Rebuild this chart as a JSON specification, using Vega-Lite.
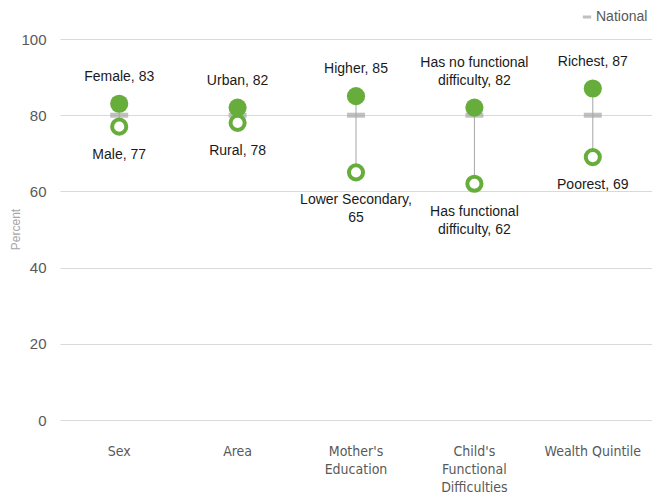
{
  "$schema": "https://vega.github.io/schema/vega-lite/v6.json",
  "width": 592,
  "height": 381,
  "autosize": "none",
  "padding": {"left": 60, "top": 39, "right": 0, "bottom": 73},
  "background": "white",
  "config": {
    "view": {"stroke": null},
    "font": "Liberation Sans",
    "axis": {"labelFont": "Liberation Sans", "titleFont": "Liberation Sans"}
  },
  "data": {
    "values": [
      {"group": "Sex", "high": 83, "low": 77, "national": 80, "high1": "", "high2": "Female, 83", "low1": "Male, 77", "low2": ""},
      {"group": "Area", "high": 82, "low": 78, "national": 80, "high1": "", "high2": "Urban, 82", "low1": "Rural, 78", "low2": ""},
      {"group": "Mother's Education", "high": 85, "low": 65, "national": 80, "high1": "", "high2": "Higher, 85", "low1": "Lower Secondary,", "low2": "65"},
      {"group": "Child's Functional Difficulties", "high": 82, "low": 62, "national": 80, "high1": "Has no functional", "high2": "difficulty, 82", "low1": "Has functional", "low2": "difficulty, 62"},
      {"group": "Wealth Quintile", "high": 87, "low": 69, "national": 80, "high1": "", "high2": "Richest, 87", "low1": "Poorest, 69", "low2": ""}
    ]
  },
  "encoding": {
    "x": {
      "field": "group",
      "type": "nominal",
      "sort": null,
      "scale": {"paddingInner": 0, "paddingOuter": 0},
      "axis": {
        "title": null,
        "labelAngle": 0,
        "ticks": false,
        "domain": false,
        "labelPadding": 31,
        "labelFontSize": 14,
        "labelColor": "#595959",
        "labelFont": "DejaVu Sans Condensed, Liberation Sans Narrow, Liberation Sans, sans-serif",
        "labelLineHeight": 18,
        "labelBaseline": "middle",
        "labelExpr": "datum.label == \"Mother's Education\" ? [\"Mother's\", \"Education\"] : datum.label == \"Child's Functional Difficulties\" ? [\"Child's\", \"Functional\", \"Difficulties\"] : datum.label"
      }
    }
  },
  "layer": [
    {
      "mark": {"type": "rule", "color": "#d9d9d9", "strokeWidth": 2},
      "encoding": {"y": {"datum": 0, "type": "quantitative"}}
    },
    {
      "mark": {"type": "rule", "color": "#a6a6a6", "strokeWidth": 1},
      "encoding": {
        "y": {
          "field": "low",
          "type": "quantitative",
          "scale": {"domain": [0, 100], "nice": false},
          "axis": {
            "title": "Percent",
            "titleColor": "#a6a6a6",
            "titleFontSize": 12,
            "titleFontWeight": "normal",
            "titleX": -45,
            "titleY": 190,
            "titleAngle": -90,
            "titleAlign": "center",
            "titleBaseline": "middle",
            "values": [0, 20, 40, 60, 80, 100],
            "labelFontSize": 15,
            "labelColor": "#595959",
            "labelPadding": 14,
            "ticks": false,
            "domain": false,
            "grid": true,
            "gridColor": "#d9d9d9",
            "gridWidth": 1
          }
        },
        "y2": {"field": "high"}
      }
    },
    {
      "mark": {"type": "tick", "thickness": 5, "size": 18},
      "encoding": {
        "y": {"field": "national", "type": "quantitative"},
        "color": {
          "datum": "National",
          "type": "nominal",
          "scale": {"range": ["#a6a6a6"]},
          "legend": {
            "title": null,
            "orient": "none",
            "legendX": 520,
            "legendY": -29,
            "symbolType": "M-1,0H1",
            "symbolSize": 70,
            "symbolStrokeWidth": 3,
            "symbolStrokeColor": "#a6a6a6",
            "labelFontSize": 14,
            "labelColor": "#595959",
            "labelOffset": 2
          }
        }
      }
    },
    {
      "mark": {"type": "point", "filled": true, "shape": "circle", "size": 330, "color": "#67ad3c", "opacity": 1},
      "encoding": {"y": {"field": "high", "type": "quantitative"}}
    },
    {
      "mark": {"type": "point", "filled": false, "shape": "circle", "size": 200, "stroke": "#67ad3c", "strokeWidth": 4, "fill": "white", "fillOpacity": 1, "opacity": 1},
      "encoding": {"y": {"field": "low", "type": "quantitative"}}
    },
    {
      "mark": {"type": "text", "baseline": "bottom", "dy": -20, "fontSize": 14, "color": "#1a1a1a"},
      "encoding": {
        "y": {"field": "high", "type": "quantitative"},
        "text": {"field": "high2"}
      }
    },
    {
      "mark": {"type": "text", "baseline": "bottom", "dy": -38, "fontSize": 14, "color": "#1a1a1a"},
      "encoding": {
        "y": {"field": "high", "type": "quantitative"},
        "text": {"field": "high1"}
      }
    },
    {
      "mark": {"type": "text", "baseline": "top", "dy": 21, "fontSize": 14, "color": "#1a1a1a"},
      "encoding": {
        "y": {"field": "low", "type": "quantitative"},
        "text": {"field": "low1"}
      }
    },
    {
      "mark": {"type": "text", "baseline": "top", "dy": 39, "fontSize": 14, "color": "#1a1a1a"},
      "encoding": {
        "y": {"field": "low", "type": "quantitative"},
        "text": {"field": "low2"}
      }
    }
  ]
}
